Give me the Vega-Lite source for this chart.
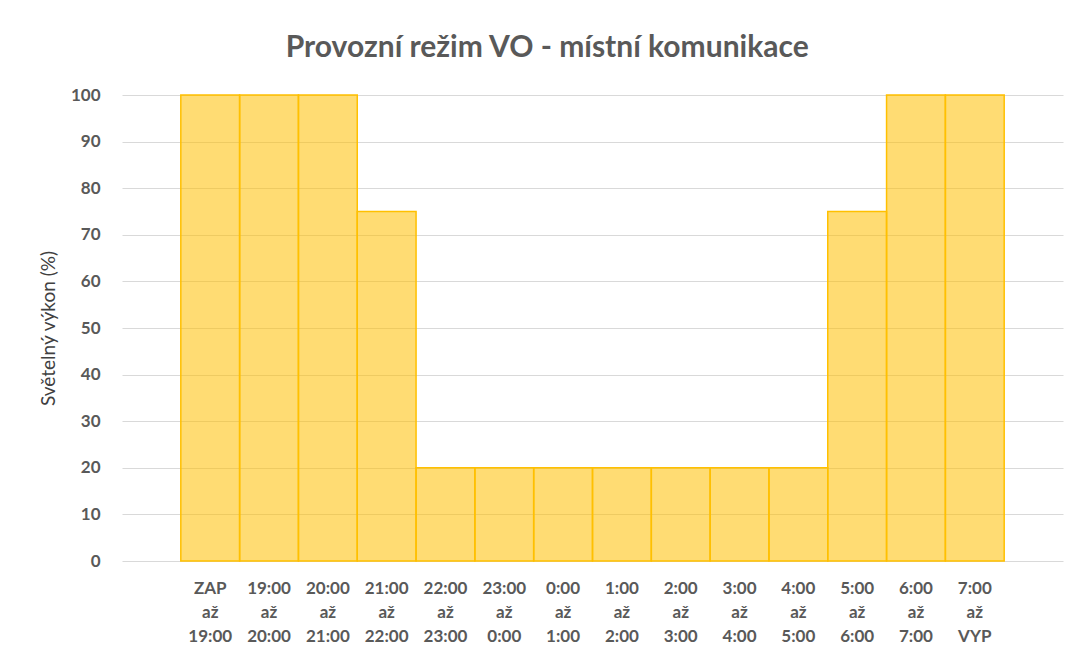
{
  "$schema": "https://vega.github.io/schema/vega-lite/v6.json",
  "autosize": {"type": "none"},
  "width": 941,
  "height": 466,
  "padding": {"left": 122, "top": 95, "right": 9, "bottom": 94},
  "background": "white",
  "title": {
    "text": "Provozní režim VO - místní komunikace",
    "font": "Lato",
    "fontSize": 30,
    "fontWeight": "bold",
    "color": "#595959",
    "anchor": "middle",
    "frame": "bounds",
    "offset": 23,
    "dx": -4
  },
  "data": {
    "values": [
      {"interval": "ZAP|až|19:00", "vykon": 100},
      {"interval": "19:00|až|20:00", "vykon": 100},
      {"interval": "20:00|až|21:00", "vykon": 100},
      {"interval": "21:00|až|22:00", "vykon": 75},
      {"interval": "22:00|až|23:00", "vykon": 20},
      {"interval": "23:00|až|0:00", "vykon": 20},
      {"interval": "0:00|až|1:00", "vykon": 20},
      {"interval": "1:00|až|2:00", "vykon": 20},
      {"interval": "2:00|až|3:00", "vykon": 20},
      {"interval": "3:00|až|4:00", "vykon": 20},
      {"interval": "4:00|až|5:00", "vykon": 20},
      {"interval": "5:00|až|6:00", "vykon": 75},
      {"interval": "6:00|až|7:00", "vykon": 100},
      {"interval": "7:00|až|VYP", "vykon": 100}
    ]
  },
  "mark": {"type": "bar", "fill": "#FFC000", "fillOpacity": 0.55, "stroke": "#FFC000", "strokeWidth": 1.5},
  "encoding": {
    "x": {
      "field": "interval",
      "type": "nominal",
      "sort": null,
      "scale": {"paddingInner": 0, "paddingOuter": 1},
      "axis": {
        "title": null,
        "labelAngle": 0,
        "labelExpr": "split(datum.label, '|')",
        "labelFont": "Lato",
        "labelFontSize": 17,
        "labelFontWeight": "bold",
        "labelColor": "#595959",
        "labelLineHeight": 24,
        "labelPadding": 19,
        "ticks": false,
        "domain": false,
        "grid": false
      }
    },
    "y": {
      "field": "vykon",
      "type": "quantitative",
      "scale": {"domain": [0, 100]},
      "axis": {
        "title": "Světelný výkon (%)",
        "titleFont": "Lato",
        "titleFontSize": 19,
        "titleFontWeight": "normal",
        "titleColor": "#404040",
        "titlePadding": 12,
        "values": [0, 10, 20, 30, 40, 50, 60, 70, 80, 90, 100],
        "labelFont": "Lato",
        "labelFontSize": 17,
        "labelFontWeight": "bold",
        "labelColor": "#595959",
        "labelPadding": 22,
        "ticks": false,
        "domain": false,
        "grid": true,
        "gridColor": "#D9D9D9",
        "gridWidth": 1
      }
    }
  },
  "config": {"view": {"stroke": null}}
}
